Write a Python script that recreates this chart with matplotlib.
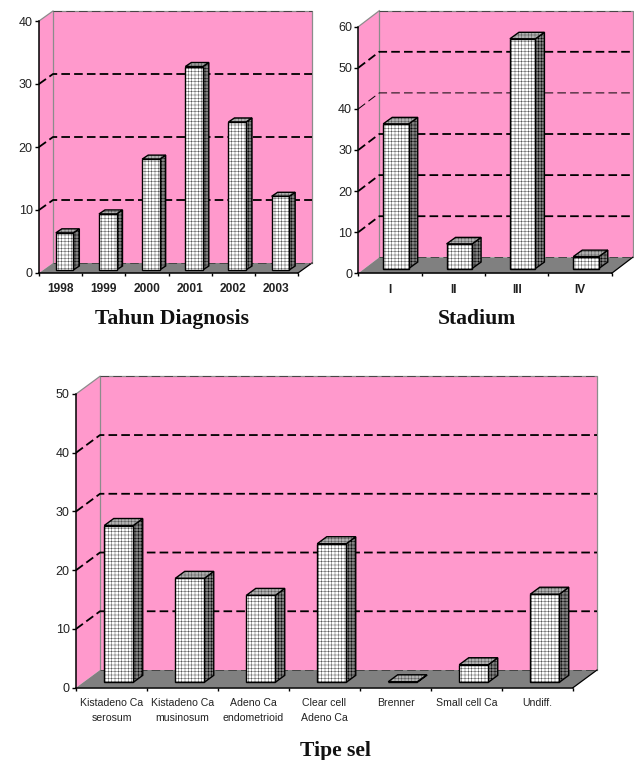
import matplotlib
matplotlib.use("Agg")
import matplotlib.pyplot as plt

plt.rcParams['font.family'] = ['Liberation Sans', 'DejaVu Sans']
plt.rcParams['hatch.linewidth'] = 0.35

PINK = '#ff99cc'
FLOOR = '#808080'
GRID = '#555555'
W = 634
H = 760

# chart values
years = ['1998', '1999', '2000', '2001', '2002', '2003']
year_vals = [5.9, 8.9, 17.6, 32.3, 23.5, 11.7]
stages = ['I', 'II', 'III', 'IV']
stage_vals = [35.2, 6.0, 55.9, 2.9]
cell_types = ['Kistadeno Ca\nserosum', 'Kistadeno Ca\nmusinosum', 'Adeno Ca\nendometrioid',
              'Clear cell\nAdeno Ca', 'Brenner', 'Small cell Ca', 'Undiff.']
cell_vals = [26.7, 17.7, 14.8, 23.6, 0.1, 3.0, 15.0]

fig = plt.figure(figsize=(W / 100, H / 100), dpi=100)


def face(ax, xs, ys, col, hatch_col):
    # hatch first, outline on top
    ax.fill(xs, ys, facecolor=col, edgecolor=hatch_col, hatch='+++++', lw=0, clip_on=False, zorder=5)
    ax.fill(xs, ys, fill=False, edgecolor='black', lw=1, clip_on=False, zorder=5)


def chart(box, vals, labels, ymax, depth, bar_w, bar_depth, lab_size, lab_weight, lab_pad, title, title_x, title_y,
          thin=()):
    left, right, top, bottom = box
    ax = fig.add_axes([left / W, 1 - bottom / H, (right - left) / W, (bottom - top) / H])
    n = len(vals)
    ax.set_xlim(0, n)
    ax.set_ylim(0, ymax)
    ax.patch.set_visible(False)

    # pixels to data units
    ux = n / (right - left)
    uy = ymax / (bottom - top)
    dx = depth[0] * ux
    dy = depth[1] * uy

    # walls and floor
    ax.fill([0, dx, dx, 0], [0, dy, ymax + dy, ymax], color=PINK, lw=0, clip_on=False, zorder=1)
    ax.fill([dx, n + dx, n + dx, dx], [dy, dy, ymax + dy, ymax + dy], color=PINK, lw=0, clip_on=False, zorder=1)
    ax.fill([0, n, n + dx, dx], [0, 0, dy, dy], color=FLOOR, lw=0, clip_on=False, zorder=2)
    ax.plot([dx, dx, n + dx, n + dx], [dy, ymax + dy, ymax + dy, dy], color='#8c8c8c', lw=0.9,
            clip_on=False, zorder=2)
    ax.plot([0, dx], [ymax, ymax + dy], color='#8c8c8c', lw=0.9, clip_on=False, zorder=2)
    ax.plot([n, n + dx], [0, dy], color='black', lw=0.9, clip_on=False, zorder=3)

    # dashed grid on the wall
    ticks = list(range(0, ymax + 1, 10))
    for t in ticks:
        if t == 0 or t == ymax:
            lw = 0.7
            col = '#444444'
            xs = [dx, n + dx]
            ys = [t + dy, t + dy]
        else:
            lw = 0.7 if t in thin else 1.3
            col = 'black'
            xs = [0, dx, n + dx]
            ys = [t, t + dy, t + dy]
        ax.plot(xs, ys, color=col, lw=lw, clip_on=False, zorder=3, linestyle=(0, (6.2 / lw, 3.0 / lw)))

    # bars
    bw = bar_w * ux
    bdx = bar_depth[0] * ux
    bdy = bar_depth[1] * uy
    lift = (depth[1] - bar_depth[1]) / 2 * uy
    shift = (depth[0] - bar_depth[0]) / 2 * ux
    for i, v in enumerate(vals):
        x0 = i + 0.5 - bw / 2 + shift
        x1 = x0 + bw
        y1 = lift + v
        face(ax, [x1, x1 + bdx, x1 + bdx, x1], [lift, lift + bdy, y1 + bdy, y1], FLOOR, 'black')
        face(ax, [x0, x1, x1 + bdx, x0 + bdx], [y1, y1, y1 + bdy, y1 + bdy], '#b0b0b0', GRID)
        ax.bar(x0, v, width=bw, bottom=lift, align='edge', facecolor='white', edgecolor=GRID,
               hatch='+++++', lw=0, clip_on=False, zorder=6)
        ax.bar(x0, v, width=bw, bottom=lift, align='edge', fill=False, edgecolor='black',
               lw=1, clip_on=False, zorder=6)

    # axes
    for s in ['top', 'right']:
        ax.spines[s].set_visible(False)
    for s in ['left', 'bottom']:
        ax.spines[s].set_linewidth(1.1)
        ax.spines[s].set_zorder(7)
    ax.set_yticks(ticks)
    ax.tick_params(axis='y', length=3, width=1, pad=1.5, labelsize=9, labelcolor='#222222')
    ax.set_xticks(range(n + 1))
    ax.set_xticklabels([])
    ax.tick_params(axis='x', which='major', length=2.5, width=1)
    ax.set_xticks([i + 0.5 for i in range(n)], minor=True)
    ax.set_xticklabels(labels, minor=True, fontsize=lab_size, fontweight=lab_weight, color='#222222',
                       linespacing=1.65)
    ax.tick_params(axis='x', which='minor', length=0, pad=lab_pad)
    fig.text(title_x / W, 1 - title_y / H, title, family='Liberation Serif', fontweight='bold',
             fontsize=15.6, ha='center', va='center', color='#111111')
    return ax


chart((39, 298, 21, 273), year_vals, years, 40, (14, 10), 17.5, (6, 4), 8.6, 'bold', 7.5, 'Tahun Diagnosis', 172.5, 318.5)
chart((358.3, 611.7, 26.7, 273.3), stage_vals, stages, 60, (21, 16), 25.5, (9, 6.5), 8.6, 'bold', 7.5, 'Stadium', 477,
      318.5, thin=(40,))
chart((76, 573, 394, 687.7), cell_vals, cell_types, 50, (24, 17.7), 29, (9.5, 7), 7.6, 'normal', 7.5, 'Tipe sel', 335,
      751)

fig.savefig('out.png', dpi=100)
